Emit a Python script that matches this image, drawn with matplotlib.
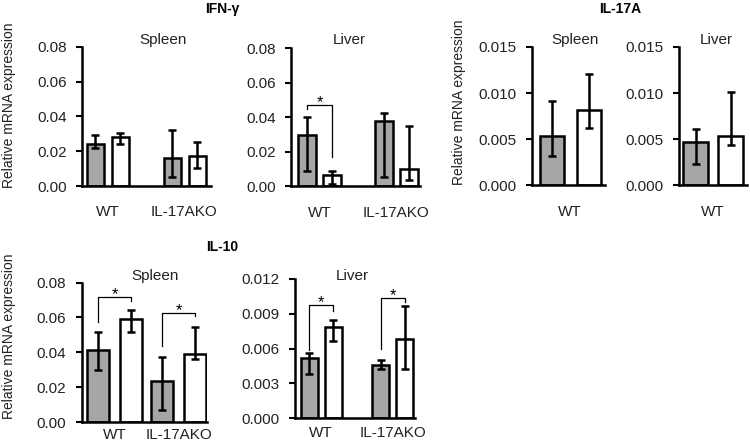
import matplotlib
matplotlib.use("Agg")
import matplotlib.pyplot as plt
import numpy as np

plt.rcParams['font.family'] = ['Liberation Sans', 'DejaVu Sans']

# ---- data (grey = first bar, white = second bar of each group) ----
groups_ko = ['WT', 'IL-17AKO']
groups_wt = ['WT']

ifn_spleen_grey = [0.024, 0.0164]
ifn_spleen_grey_lo = [0.0221, 0.0053]
ifn_spleen_grey_hi = [0.0295, 0.032]
ifn_spleen_white = [0.0282, 0.0171]
ifn_spleen_white_lo = [0.0244, 0.0105]
ifn_spleen_white_hi = [0.0305, 0.0253]

ifn_liver_grey = [0.0295, 0.038]
ifn_liver_grey_lo = [0.0087, 0.0054]
ifn_liver_grey_hi = [0.0399, 0.0424]
ifn_liver_white = [0.0067, 0.0102]
ifn_liver_white_lo = [0.0015, 0.0039]
ifn_liver_white_hi = [0.0087, 0.0351]

il17_spleen_grey = [0.0054]
il17_spleen_grey_lo = [0.0032]
il17_spleen_grey_hi = [0.0091]
il17_spleen_white = [0.0082]
il17_spleen_white_lo = [0.0062]
il17_spleen_white_hi = [0.0121]

il17_liver_grey = [0.0047]
il17_liver_grey_lo = [0.0023]
il17_liver_grey_hi = [0.0061]
il17_liver_white = [0.0054]
il17_liver_white_lo = [0.0044]
il17_liver_white_hi = [0.0101]

il10_spleen_grey = [0.0413, 0.0234]
il10_spleen_grey_lo = [0.0297, 0.0071]
il10_spleen_grey_hi = [0.0518, 0.0374]
il10_spleen_white = [0.0589, 0.0389]
il10_spleen_white_lo = [0.0514, 0.0364]
il10_spleen_white_hi = [0.0643, 0.0543]

il10_liver_grey = [0.00515, 0.0046]
il10_liver_grey_lo = [0.0038, 0.00426]
il10_liver_grey_hi = [0.00561, 0.00504]
il10_liver_white = [0.00786, 0.00682]
il10_liver_white_lo = [0.00662, 0.00423]
il10_liver_white_hi = [0.00849, 0.00964]

# significance brackets: (group index, bracket top, left leg end, right leg end)
ifn_liver_sig = [(0, 0.047, 0.045, 0.017)]
il10_spleen_sig = [(0, 0.0716, 0.0576, 0.0696), (1, 0.0627, 0.0435, 0.0608)]
il10_liver_sig = [(0, 0.00978, 0.0059, 0.0092), (1, 0.01036, 0.006, 0.010)]

ifn_ticks = [0.00, 0.02, 0.04, 0.06, 0.08]
il17_ticks = [0.000, 0.005, 0.010, 0.015]
il10_spleen_ticks = [0.00, 0.02, 0.04, 0.06, 0.08]
il10_liver_ticks = [0.000, 0.003, 0.006, 0.009, 0.012]

W, H = 750, 444
GREY = '#a6a6a6'
LW = 1.8

fig = plt.figure(figsize=(W / 100, H / 100), dpi=100)


def panel(px_left, px_zero, px_top, px_right, centers, off, width,
          cats, grey, glo, ghi, white, wlo, whi, ticks, fmt, label_pad, sig=()):
    ax = fig.add_axes([px_left / W, (H - px_zero) / H,
                       (px_right - px_left) / W, (px_zero - px_top) / H])
    ax.set_xlim(0, px_right - px_left)
    ax.set_ylim(ticks[0], ticks[-1])
    c = np.array(centers, dtype=float)
    for xs, v, lo, hi, col in [(c - off, grey, glo, ghi, GREY),
                               (c + off, white, wlo, whi, 'white')]:
        v = np.array(v)
        ax.bar(xs, v, width=width, color=col, edgecolor='black', linewidth=LW, zorder=2)
        yerr = [v - np.array(lo), np.array(hi) - v]
        ax.errorbar(xs, v, yerr=yerr, fmt='none', ecolor='black', elinewidth=LW,
                    capsize=2.6, capthick=LW, zorder=3)
    for gi, ytop, yl, yr in sig:
        xl, xr = c[gi] - off, c[gi] + off
        ax.plot([xl, xl, xr, xr], [yl, ytop, ytop, yr], color='black', lw=0.9,
                zorder=4, clip_on=False)
        ax.annotate('*', ((xl + xr) / 2, ytop), xytext=(0, -1.5),
                    textcoords='offset points', ha='center', va='baseline',
                    fontsize=12, clip_on=False)
    for s in ['top', 'right']:
        ax.spines[s].set_visible(False)
    for s in ['left', 'bottom']:
        ax.spines[s].set_linewidth(LW)
    ax.set_yticks(ticks)
    ax.set_yticklabels([fmt.format(t) for t in ticks], fontsize=11, color='#222222')
    ax.tick_params(axis='y', direction='out', length=4, width=1.5, pad=7)
    ax.set_xticks(c)
    ax.set_xticklabels(cats, fontsize=11, color='#222222')
    ax.tick_params(axis='x', length=0, pad=label_pad)
    ax.patch.set_visible(False)
    return ax


# IFN-gamma
panel(82, 186, 47, 211, [25.5, 102.5], 12.5, 17, groups_ko,
      ifn_spleen_grey, ifn_spleen_grey_lo, ifn_spleen_grey_hi,
      ifn_spleen_white, ifn_spleen_white_lo, ifn_spleen_white_hi,
      ifn_ticks, '{:.2f}', 14)
panel(291, 186.5, 48, 420, [28.5, 105], 12.5, 18, groups_ko,
      ifn_liver_grey, ifn_liver_grey_lo, ifn_liver_grey_hi,
      ifn_liver_white, ifn_liver_white_lo, ifn_liver_white_hi,
      ifn_ticks, '{:.2f}', 14, ifn_liver_sig)
# IL-17A
panel(531.5, 185.5, 47, 605, [38.5], 18.5, 24, groups_wt,
      il17_spleen_grey, il17_spleen_grey_lo, il17_spleen_grey_hi,
      il17_spleen_white, il17_spleen_white_lo, il17_spleen_white_hi,
      il17_ticks, '{:.3f}', 14)
panel(679, 185.5, 47, 747, [34], 17.5, 25, groups_wt,
      il17_liver_grey, il17_liver_grey_lo, il17_liver_grey_hi,
      il17_liver_white, il17_liver_white_lo, il17_liver_white_hi,
      il17_ticks, '{:.3f}', 14)
# IL-10
panel(81.5, 422, 282.5, 207, [33, 97.25], 16.5, 22, groups_ko,
      il10_spleen_grey, il10_spleen_grey_lo, il10_spleen_grey_hi,
      il10_spleen_white, il10_spleen_white_lo, il10_spleen_white_hi,
      il10_spleen_ticks, '{:.2f}', 4, il10_spleen_sig)
panel(294.5, 418, 279, 415, [26.5, 98.25], 12, 17, groups_ko,
      il10_liver_grey, il10_liver_grey_lo, il10_liver_grey_hi,
      il10_liver_white, il10_liver_white_lo, il10_liver_white_hi,
      il10_liver_ticks, '{:.3f}', 6, il10_liver_sig)


def ftext(x, y, s, **kw):
    fig.text(x / W, 1 - y / H, s, ha='center', va='center', **kw)


ftext(222, 9, 'IFN-γ', fontsize=10, fontweight='bold')
ftext(620, 9, 'IL-17A', fontsize=10, fontweight='bold')
ftext(222, 247, 'IL-10', fontsize=10, fontweight='bold')

for x, y, s in [(163, 40, 'Spleen'), (349, 40, 'Liver'), (575, 40, 'Spleen'),
                (716, 40, 'Liver'), (155, 276, 'Spleen'), (352, 276, 'Liver')]:
    ftext(x, y, s, fontsize=11, color='#222222')

for x, y in [(9, 105), (459, 102), (9, 336)]:
    ftext(x, y, 'Relative mRNA expression', fontsize=10, rotation=90, color='#222222')

fig.savefig('out.png', dpi=100)
